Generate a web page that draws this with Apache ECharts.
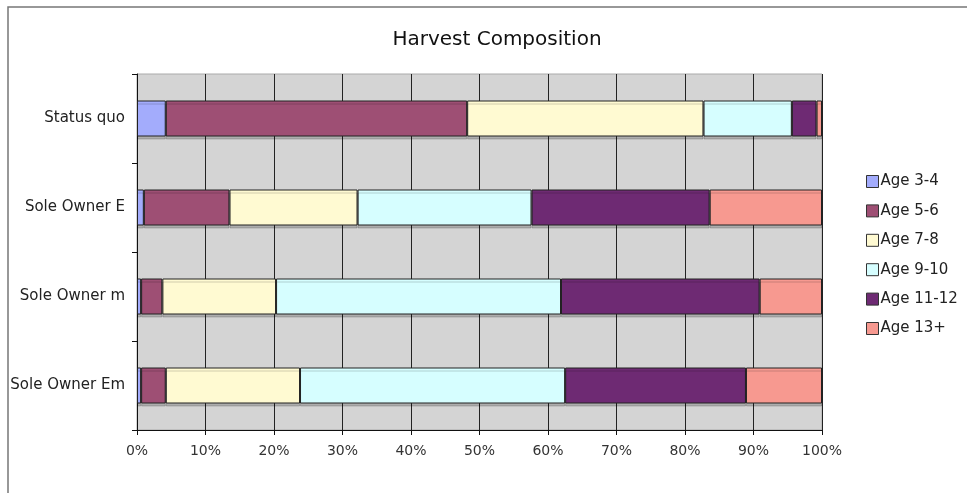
<!DOCTYPE html>
<html>
<head>
<meta charset="utf-8">
<script src="https://cdn.jsdelivr.net/npm/echarts@6/dist/echarts.min.js"></script>
<style>
  html, body { margin: 0; padding: 0; background: #fff; }
  #chart { width: 967px; height: 493px; }
</style>
</head>
<body>
<div id="chart"></div>
<script>
// categories, top to bottom
const categories = ['Status quo', 'Sole Owner E', 'Sole Owner m', 'Sole Owner Em'];
const seriesNames = ['Age 3-4', 'Age 5-6', 'Age 7-8', 'Age 9-10', 'Age 11-12', 'Age 13+'];
const colors = ['#a3acfc', '#9e4f74', '#fffad2', '#d6feff', '#6e2a73', '#f79990'];

// share of harvest (%) per age group, one value per category
const age3to4 = [4.2, 1.0, 0.6, 0.6];
const age5to6 = [44.0, 12.5, 3.1, 3.6];
const age7to8 = [34.5, 18.7, 16.6, 19.6];
const age9to10 = [12.9, 25.4, 41.6, 38.7];
const age11to12 = [3.6, 26.0, 29.0, 26.4];
const age13plus = [0.8, 16.4, 9.1, 11.1];
const values = [age3to4, age5to6, age7to8, age9to10, age11to12, age13plus];

const font = 'DejaVu Sans, Verdana, sans-serif';

let chart = echarts.init(document.getElementById('chart'));

let series = seriesNames.map(function (name, i) {
    return {
        name: name,
        type: 'bar',
        stack: 'total',
        barWidth: 36,
        data: values[i],
        itemStyle: {
            color: colors[i],
            borderColor: '#222',
            borderWidth: 1,
            shadowColor: 'rgba(0,0,0,0.18)',
            shadowOffsetX: 0,
            shadowOffsetY: 3,
            shadowBlur: 0
        },
        emphasis: { disabled: true }
    };
});

let option = {
    animation: false,
    backgroundColor: '#fff',
    title: {
        text: 'Harvest Composition',
        left: 492,
        textAlign: 'center',
        top: 25,
        textStyle: { fontFamily: font, fontSize: 20, fontWeight: 'normal', color: '#111' }
    },
    graphic: [{
        type: 'rect',
        shape: { x: 8, y: 7, width: 1000, height: 520 },
        style: { fill: null, stroke: '#777', lineWidth: 1.5 },
        silent: true
    }],
    legend: {
        orient: 'vertical',
        left: 866,
        top: 174,
        padding: 0,
        itemWidth: 12,
        itemHeight: 12,
        itemGap: 14.4,
        icon: 'rect',
        data: seriesNames,
        textStyle: { fontFamily: font, fontSize: 15, color: '#222', padding: [0, 0, 0, -3] },
        itemStyle: { borderColor: '#333', borderWidth: 1, shadowBlur: 0, shadowOffsetX: 0, shadowOffsetY: 0 }
    },
    grid: {
        left: 137,
        right: 145,
        top: 74,
        bottom: 63,
        show: true,
        backgroundColor: '#d4d4d4',
        borderColor: '#aaa',
        borderWidth: 1
    },
    xAxis: {
        type: 'value',
        min: 0,
        max: 100,
        interval: 10,
        axisLine: { show: true, lineStyle: { color: '#111', width: 1 } },
        axisTick: { show: true, length: 5, lineStyle: { color: '#111' } },
        axisLabel: { formatter: '{value}%', fontFamily: font, fontSize: 14, color: '#333', margin: 14 },
        splitLine: { show: true, lineStyle: { color: '#222', width: 1 } }
    },
    yAxis: {
        type: 'category',
        inverse: true,
        data: categories,
        axisLine: { show: true, lineStyle: { color: '#111', width: 1 } },
        axisTick: { show: true, length: 5, lineStyle: { color: '#111' } },
        axisLabel: { fontFamily: font, fontSize: 15, color: '#222', margin: 12 },
        splitLine: { show: false }
    },
    series: series
};

chart.setOption(option);
</script>
</body>
</html>
